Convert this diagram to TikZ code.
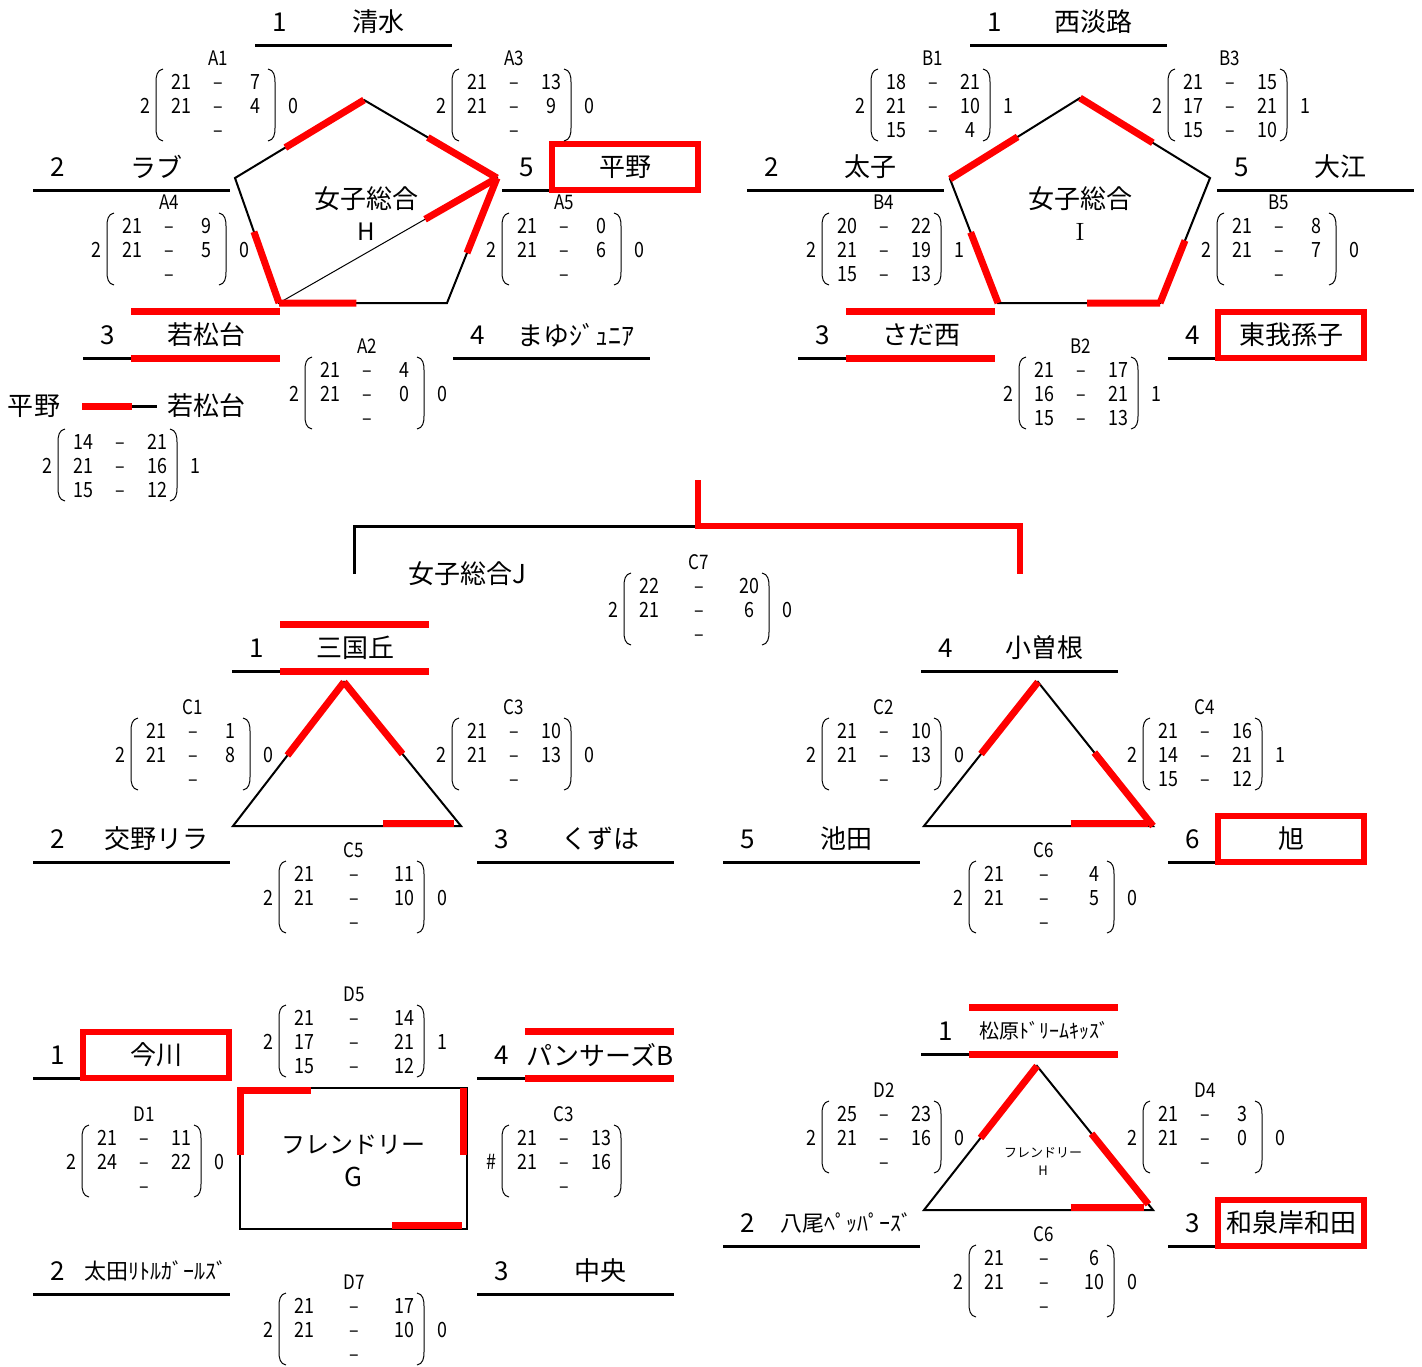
\documentclass[tikz,border=0pt]{standalone}
\usepackage{fontspec}
\usepackage{tikz}
\usetikzlibrary{calc}
\newfontfamily\jp{Noto Sans CJK JP}
\newfontfamily\jpn[FakeStretch=0.85]{Noto Sans CJK JP}

% one entry: seed number, club name, rule under it
\newcommand{\team}[6]{%
  \draw[rule] (#2,#3) coordinate (#1s) -- ++(197,0) coordinate (#1e);
  \node[seed] (#1n) at (#2+25,#3-23) {#4};
  \node[club,#6] (#1c) at (#2+123,#3-23) {#5};
}
% red lines above and below a winner
\newcommand{\winrule}[1]{%
  \draw[winline] ($(#1s)+(48,0)$) -- (#1e);
  \draw[winline] ($(#1s)+(48,-47)$) -- ($(#1e)+(0,-47)$);
}
% match result: name, x, y, label, half width, left, right, games
\newcommand{\scorebox}[8]{%
  \node[tag] (#1) at (#2,#3) {#4};
  \foreach \sa/\sb [count=\rw] in {#8} {
    \node[pts] (#1a\rw) at (#2-#5,#3+24*\rw) {\sa};
    \node[pts] (#1d\rw) at (#2,#3+24*\rw) {–};
    \node[pts] (#1b\rw) at (#2+#5,#3+24*\rw) {\sb};
  }
  \node[pts] (#1l) at (#2-#5-36,#3+48) {#6};
  \node[pts] (#1r) at (#2+#5+38,#3+48) {#7};
  \draw[paren] (#2-#5-18,#3+11) .. controls (#2-#5-24,#3+12) and (#2-#5-25,#3+18) .. (#2-#5-25,#3+24)
    -- (#2-#5-25,#3+70) .. controls (#2-#5-25,#3+76) and (#2-#5-24,#3+82) .. (#2-#5-18,#3+83);
  \draw[paren] (#2+#5+13,#3+11) .. controls (#2+#5+19,#3+12) and (#2+#5+20,#3+18) .. (#2+#5+20,#3+24)
    -- (#2+#5+20,#3+70) .. controls (#2+#5+20,#3+76) and (#2+#5+19,#3+82) .. (#2+#5+13,#3+83);
}

\begin{document}
\begin{tikzpicture}[x=0.5pt, y=-0.5pt,
    seed/.style={font=\jp\fontsize{13}{13}\selectfont},
    club/.style={font=\jp\fontsize{13}{13}\selectfont},
    longname/.style={font=\jp\fontsize{11}{11}\selectfont},
    longername/.style={font=\jp\fontsize{10}{10}\selectfont},
    tag/.style={font=\jpn\fontsize{10}{10}\selectfont, inner sep=0pt, text height=7.2pt, text depth=0pt},
    pts/.style={font=\jpn\fontsize{10.5}{10.5}\selectfont, inner sep=0pt, text height=7.6pt, text depth=0pt},
    title/.style={font=\jp\fontsize{13}{16}\selectfont, align=center},
    rule/.style={line width=1.5pt},
    rim/.style={line width=1pt},
    winline/.style={red, line width=3.5pt},
    winbox/.style={draw=red, line width=3pt, minimum width=73pt, minimum height=23pt},
    paren/.style={line width=0.5pt},
  ]
  \useasboundingbox (0,0) rectangle (1422,1366);

  % league H
  \coordinate (hT) at (364,100);
  \coordinate (hL) at (235,178);
  \coordinate (hR) at (497,178);
  \coordinate (hLL) at (279,303);
  \coordinate (hLR) at (447,303);
  \draw[rim] (hT) -- (hR) -- (hLR) -- (hLL) -- (hL) -- cycle;
  \draw[line width=0.5pt] (hLL) -- (hR);
  \draw[winline] ($(hL)!0.39!(hT)$) -- (hT);
  \draw[winline] ($(hT)!0.48!(hR)$) -- (hR);
  \draw[winline] (hR) -- ($(hR)!0.6!(hLR)$);
  \draw[winline] (hLL) -- ($(hLL)!0.46!(hLR)$);
  \draw[winline] ($(hL)!0.43!(hLL)$) -- (hLL);
  \draw[winline] ($(hLL)!0.67!(hR)$) -- (hR);
  \node[title] (hTitle) at (366,214) {女子総合\\{\fontsize{12}{12}\selectfont H}};

  \team{h1}{255}{45}{1}{清水}{}
  \team{h2}{33}{190}{2}{ラブ}{}
  \team{h5}{502}{190}{5}{平野}{winbox}
  \team{h3}{83}{358}{3}{若松台}{}
  \team{h4}{453}{358}{4}{まゆｼﾞｭﾆｱ}{}
  \winrule{h3}

  \scorebox{A1}{218}{58}{A1}{37}{2}{0}{21/7, 21/4, /}
  \scorebox{A3}{514}{58}{A3}{37}{2}{0}{21/13, 21/9, /}
  \scorebox{A4}{169}{202}{A4}{37}{2}{0}{21/9, 21/5, /}
  \scorebox{A5}{564}{202}{A5}{37}{2}{0}{21/0, 21/6, /}
  \scorebox{A2}{367}{346}{A2}{37}{2}{0}{21/4, 21/0, /}

  % play-off
  \node[club] (hiranoX) at (34,406) {平野};
  \node[club] (wakaX) at (206,406) {若松台};
  \draw[winline] ($(hiranoX.east)+(15,0)$) coordinate (lgA) -- ++(50,0) coordinate (lgB);
  \draw[rule] (lgB) -- ($(wakaX.west)+(-3,0)$);
  \scorebox{AX}{120}{418}{}{37}{2}{1}{14/21, 21/16, 15/12}

  % league I
  \coordinate (iT) at (1080,98);
  \coordinate (iL) at (950,179);
  \coordinate (iR) at (1210,178);
  \coordinate (iLL) at (998,303);
  \coordinate (iLR) at (1160,303);
  \draw[rim] (iT) -- (iR) -- (iLR) -- (iLL) -- (iL) -- cycle;
  \draw[winline] (iL) -- ($(iL)!0.52!(iT)$);
  \draw[winline] (iT) -- ($(iT)!0.56!(iR)$);
  \draw[winline] ($(iR)!0.5!(iLR)$) -- (iLR);
  \draw[winline] ($(iLL)!0.55!(iLR)$) -- (iLR);
  \draw[winline] ($(iL)!0.43!(iLL)$) -- (iLL);
  \node[title] (iTitle) at (1080,214) {女子総合\\{\rmfamily\fontsize{12.5}{12.5}\selectfont I}};

  \team{i1}{970}{45}{1}{西淡路}{}
  \team{i2}{747}{190}{2}{太子}{}
  \team{i5}{1217}{190}{5}{大江}{}
  \team{i3}{798}{358}{3}{さだ西}{}
  \team{i4}{1168}{358}{4}{東我孫子}{winbox}
  \winrule{i3}

  \scorebox{B1}{933}{58}{B1}{37}{2}{1}{18/21, 21/10, 15/4}
  \scorebox{B3}{1230}{58}{B3}{37}{2}{1}{21/15, 17/21, 15/10}
  \scorebox{B4}{884}{202}{B4}{37}{2}{1}{20/22, 21/19, 15/13}
  \scorebox{B5}{1279}{202}{B5}{37}{2}{0}{21/8, 21/7, /}
  \scorebox{B2}{1081}{346}{B2}{37}{2}{1}{21/17, 16/21, 15/13}

  % league J, final
  \coordinate (jA) at (354,574);
  \coordinate (jB) at (698,526);
  \coordinate (jC) at (698,480);
  \coordinate (jD) at (1020,574);
  \draw[rule] (jA) |- (jB);
  \draw[winline, line width=3pt] (jC) -- (jB) -| (jD);
  \node[title] (jTitle) at (467,574) {女子総合J};
  \scorebox{C7}{699}{562}{C7}{50}{2}{0}{22/20, 21/6, /}

  % league J, left group
  \coordinate (kT) at (344,682);
  \coordinate (kL) at (233,826);
  \coordinate (kR) at (461,826);
  \draw[rim] (kT) -- (kR) -- (kL) -- cycle;
  \draw[winline] ($(kL)!0.49!(kT)$) -- (kT);
  \draw[winline] (kT) -- ($(kT)!0.5!(kR)$);
  \draw[winline] ($(kL)!0.66!(kR)+(0,-3)$) -- ($(kL)!0.97!(kR)+(0,-3)$);

  \team{j1}{232}{671}{1}{三国丘}{}
  \team{j2}{33}{862}{2}{交野リラ}{}
  \team{j3}{477}{862}{3}{くずは}{}
  \winrule{j1}

  \scorebox{C1}{193}{707}{C1}{37}{2}{0}{21/1, 21/8, /}
  \scorebox{C3}{514}{707}{C3}{37}{2}{0}{21/10, 21/13, /}
  \scorebox{C5}{354}{850}{C5}{50}{2}{0}{21/11, 21/10, /}

  % league J, right group
  \coordinate (mT) at (1038,682);
  \coordinate (mL) at (924,826);
  \coordinate (mR) at (1153,826);
  \draw[rim] (mT) -- (mR) -- (mL) -- cycle;
  \draw[winline] ($(mL)!0.5!(mT)$) -- (mT);
  \draw[winline] ($(mT)!0.49!(mR)$) -- (mR);
  \draw[winline] ($(mL)!0.64!(mR)+(0,-3)$) -- ($(mL)!0.98!(mR)+(0,-3)$);

  \team{j4}{921}{671}{4}{小曽根}{}
  \team{j5}{723}{862}{5}{池田}{}
  \team{j6}{1168}{862}{6}{旭}{winbox}

  \scorebox{C2}{884}{707}{C2}{37}{2}{0}{21/10, 21/13, /}
  \scorebox{C4}{1205}{707}{C4}{37}{2}{1}{21/16, 14/21, 15/12}
  \scorebox{C6}{1044}{850}{C6}{50}{2}{0}{21/4, 21/5, /}

  % friendly G
  \coordinate (gTL) at (240,1088);
  \coordinate (gTR) at (467,1088);
  \coordinate (gBR) at (467,1229);
  \coordinate (gBL) at (240,1229);
  \draw[rim] (gTL) -- (gTR) -- (gBR) -- (gBL) -- cycle;
  \draw[winline] ($(gTL)+(0,67)$) -- ($(gTL)+(0,2)$) -- ($(gTL)+(71,2)$);
  \draw[winline] ($(gTR)+(-4,0)$) -- ($(gTR)+(-4,67)$);
  \draw[winline] ($(gBL)!0.67!(gBR)+(0,-4)$) -- ($(gBL)!0.98!(gBR)+(0,-4)$);
  \node[title, font=\jp\fontsize{12}{16.5}\selectfont] (gTitle) at (353,1161) {フレンドリー\\{\fontsize{13}{13}\selectfont G}};

  \team{g1}{33}{1078}{1}{今川}{winbox}
  \team{g4}{477}{1078}{4}{パンサーズB}{}
  \team{g2}{33}{1294}{2}{太田ﾘﾄﾙｶﾞｰﾙｽﾞ}{longname}
  \team{g3}{477}{1294}{3}{中央}{}
  \winrule{g4}

  \scorebox{D5}{354}{994}{D5}{50}{2}{1}{21/14, 17/21, 15/12}
  \scorebox{D1}{144}{1114}{D1}{37}{2}{0}{21/11, 24/22, /}
  \scorebox{C3x}{564}{1114}{C3}{37}{\#}{}{21/13, 21/16, /}
  \scorebox{D7}{354}{1282}{D7}{50}{2}{0}{21/17, 21/10, /}

  % friendly H
  \coordinate (fT) at (1037,1066);
  \coordinate (fL) at (924,1210);
  \coordinate (fR) at (1153,1210);
  \draw[rim] (fT) -- (fR) -- (fL) -- cycle;
  \draw[winline] ($(fL)!0.5!(fT)$) -- (fT);
  \draw[winline] ($(fT)!0.47!(fR)$) -- ($(fT)!0.96!(fR)$);
  \draw[winline] ($(fL)!0.64!(fR)+(0,-3)$) -- ($(fL)!0.96!(fR)+(0,-3)$);
  \node[title, font=\jp\fontsize{6.5}{9}\selectfont] (fTitle) at (1043,1161) {フレンドリー\\H};

  \team{f1}{921}{1054}{1}{松原ﾄﾞﾘｰﾑｷｯｽﾞ}{longername}
  \team{f2}{723}{1246}{2}{八尾ﾍﾟｯﾊﾟｰｽﾞ}{longname}
  \team{f3}{1168}{1246}{3}{和泉岸和田}{winbox}
  \winrule{f1}

  \scorebox{D2}{884}{1090}{D2}{37}{2}{0}{25/23, 21/16, /}
  \scorebox{D4}{1205}{1090}{D4}{37}{2}{0}{21/3, 21/0, /}
  \scorebox{C6x}{1044}{1234}{C6}{50}{2}{0}{21/6, 21/10, /}
\end{tikzpicture}
\end{document}
